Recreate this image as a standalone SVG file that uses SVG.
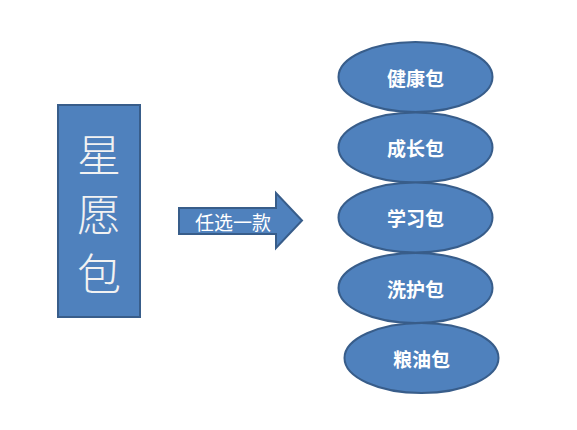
<svg xmlns="http://www.w3.org/2000/svg" width="577" height="430" viewBox="0 0 577 430">
<style>
.shape{fill:#4f81bd;stroke:#385d8a;stroke-width:2}
.lbl{font-family:"Noto Sans CJK SC","Noto Sans",sans-serif;fill:#ffffff;text-anchor:middle;dominant-baseline:central}
.big{font-size:44px;fill:#f2f2f2;font-weight:300}
.mid{font-size:19px;font-weight:bold}
</style>
<rect width="577" height="430" fill="#ffffff"/>
<g id="xingyuanbao">
<rect class="shape" x="58" y="105" width="82" height="212"/>
<text class="lbl big" x="99" y="153">星</text>
<text class="lbl big" x="99" y="212">愿</text>
<text class="lbl big" x="99" y="272">包</text>
</g>
<g id="connectors">
<g id="arrow">
<path class="shape" d="M179,208 L276,208 L276,193 L302,220.5 L276,248 L276,234 L179,234 Z"/>
<text class="lbl" x="233" y="221" style="font-size:19px">任选一款</text>
</g>
</g>
<g id="jiankang">
<ellipse class="shape" cx="415.5" cy="77" rx="77" ry="35"/>
<text class="lbl mid" x="415.5" y="77">健康包</text>
</g>
<g id="chengzhang">
<ellipse class="shape" cx="415.5" cy="147.5" rx="77" ry="35"/>
<text class="lbl mid" x="415.5" y="147">成长包</text>
</g>
<g id="xuexi">
<ellipse class="shape" cx="415.5" cy="217.5" rx="77" ry="35"/>
<text class="lbl mid" x="415.5" y="217">学习包</text>
</g>
<g id="xihu">
<ellipse class="shape" cx="415.5" cy="288" rx="77" ry="35"/>
<text class="lbl mid" x="415.5" y="288">洗护包</text>
</g>
<g id="liangyou">
<ellipse class="shape" cx="421.5" cy="358" rx="77" ry="35"/>
<text class="lbl mid" x="421.5" y="358">粮油包</text>
</g>
</svg>
